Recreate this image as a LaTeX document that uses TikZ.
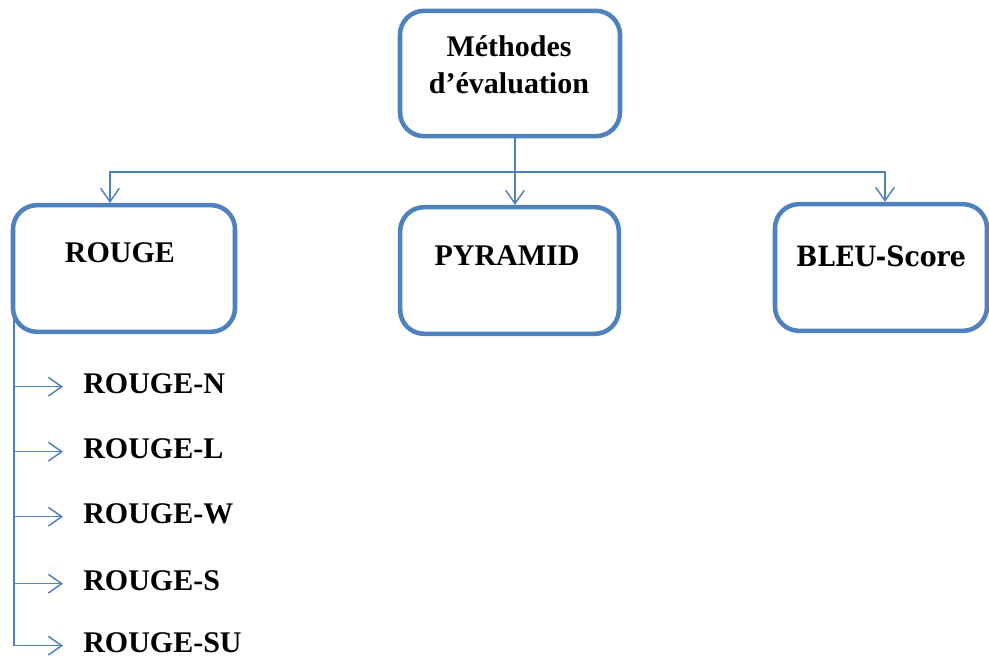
\documentclass[tikz,border=0pt]{standalone}
\usepackage{fontspec}
\setmainfont{Liberation Serif}
\newfontfamily\scorefont{DejaVu Serif Condensed}
\usetikzlibrary{arrows.meta,backgrounds}
\definecolor{boxblue}{HTML}{4F81BD}
\begin{document}
\begin{tikzpicture}[x=0.75pt,y=-0.75pt,
  box/.style={draw=boxblue, fill=white, line width=3.4pt, rounded corners=18pt, inner sep=0pt},
  txt/.style={font=\fontsize{22.5}{27.75}\selectfont\bfseries, inner sep=0pt, align=center},
  item/.style={txt, anchor=west},
  conn/.style={draw=boxblue, line width=1.1pt},
  arr/.style={conn, -{Straight Barb[length=10pt,width=14pt,line width=1.1pt]}}]
\useasboundingbox (0,0) rectangle (989,659);

% boxes
\node[box, minimum width=165pt, minimum height=94pt] (top) at (510,73.5) {};
\node[box, minimum width=166.5pt, minimum height=95pt] (rouge) at (124,268.5) {};
\node[box, minimum width=164pt, minimum height=95pt] (pyr) at (509.5,270.5) {};
\node[box, minimum width=159pt, minimum height=95pt] (bleu) at (881,267.5) {};

% box titles
\node[txt] (topT) at (509,65) {Méthodes\\d’évaluation};
\node[txt, anchor=base] (rougeT) at (120,263) {ROUGE};
\node[txt, anchor=base] (pyrT) at (507,266) {PYRAMID};
\node[txt, anchor=base, font=\scorefont\fontsize{21}{25}\selectfont\bfseries] (bleuT) at (881,267) {BLEU-Score};

% ROUGE variants
\node[item] (rn) at (83,384) {ROUGE-N};
\node[item] (rl) at (83,449) {ROUGE-L};
\node[item] (rw) at (83,514) {ROUGE-W};
\node[item] (rs) at (83,581) {ROUGE-S};
\node[item] (rsu) at (83,643) {ROUGE-SU};

\begin{scope}[on background layer]
  % tree from the top box
  \coordinate (hub) at (515,172);
  \draw[conn] (top.south -| hub) -- (hub);
  \draw[arr] (hub) -| ([xshift=-10.5pt]rouge.north);
  \draw[arr] (hub) -- (hub |- pyr.north);
  \draw[arr] (hub) -| ([xshift=3pt]bleu.north);
  % list under ROUGE
  \coordinate (spine) at ([xshift=2.5pt]rouge.west);
  \draw[conn] (spine) -- ([yshift=-2pt]spine |- rsu.west);
  \foreach \v in {rn,rl,rw,rs,rsu}
    \draw[arr] ([yshift=-2pt]spine |- \v.west) -- ([xshift=-15pt,yshift=-2pt]\v.west);
\end{scope}
\end{tikzpicture}
\end{document}
